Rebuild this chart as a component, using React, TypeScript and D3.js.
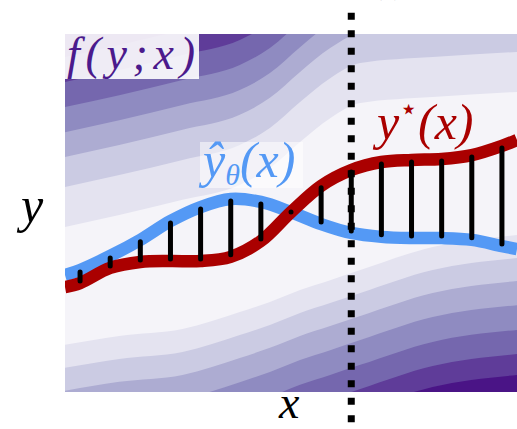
import * as d3 from 'd3'

const W = 517
const H = 429
const plot = { left: 65, right: 517, top: 34, bottom: 392 }

// sample positions along x; residual segments are drawn at the interior samples
const xs = [0, 0.5, 1.5, 2.5, 3.5, 4.5, 5.5, 6.5, 7.5, 8.5, 9.5, 10.5, 11.5, 12.5, 13.5, 14.5, 15]
// y*(x), the true solution
const yStar = [3.52, 3.65, 4.16, 4.36, 4.39, 4.39, 4.53, 5.06, 6.03, 6.91, 7.44, 7.71, 7.78, 7.81, 7.94, 8.25, 8.45]
// ŷθ(x), the model prediction
const yHat = [3.92, 4.09, 4.56, 5.1, 5.73, 6.2, 6.47, 6.37, 6.03, 5.63, 5.33, 5.2, 5.16, 5.16, 5.1, 4.89, 4.79]
const selectedX = 9.5

// f(y;x) contour bands: edges of the lowest band and the level offsets around it
const bandX = [0, 1.8, 3.9, 5.8, 6.8, 7.8, 8.8, 9.8, 12.2, 15]
const bandUpper = [5.53, 5.93, 6.44, 6.94, 7.51, 8.38, 9.18, 9.69, 9.89, 10.06]
const bandLower = [1.58, 1.88, 2.11, 2.68, 3.02, 3.42, 3.75, 4.09, 4.86, 5.26]
const levelAbove = [0, 1.34, 2.35, 3.18, 4.02, 4.86, 5.7]
const levelBelow = [0, 0.77, 1.54, 2.35, 3.18, 3.99, 4.69]
const nBands = 8

const xScale = d3.scaleLinear([0, 15], [plot.left, plot.right])
const yScale = d3.scaleLinear([0, 12], [plot.bottom, plot.top])
const bandColor = (k: number) => d3.interpolatePurples((k + 0.5) / nBands)

const RED = '#aa0000'
const BLUE = '#5499f5'
const SERIF = "'Liberation Serif', 'DejaVu Serif', serif"

export default function App() {
  const idx = d3.range(bandX.length)
  const bands = d3
    .range(levelAbove.length - 1, -1, -1)
    .map((k) => {
      const area = d3
        .area<number>()
        .x((i) => xScale(bandX[i]))
        .y0((i) => yScale(bandLower[i] - levelBelow[k]))
        .y1((i) => yScale(bandUpper[i] + levelAbove[k]))
        .curve(d3.curveMonotoneX)
      return { k, d: area(idx) ?? '' }
    })

  const pts = d3.range(xs.length)
  const line = (ys: number[]) =>
    d3
      .line<number>()
      .x((i) => xScale(xs[i]))
      .y((i) => yScale(ys[i]))
      .curve(d3.curveCatmullRom)(pts) ?? ''

  const residuals = pts.slice(1, -1).map((i) => {
    const a = yScale(yStar[i])
    const b = yScale(yHat[i])
    const inset = Math.abs(a - b) > 6 ? 2 : 0
    const dir = Math.sign(b - a)
    return { x: xScale(xs[i]), y1: a + dir * inset, y2: b - dir * inset }
  })

  return (
    <svg
      width={W}
      height={H}
      style={{ position: 'absolute', left: 0, top: 0, display: 'block', background: '#fff' }}
    >
      <defs>
        <clipPath id="plotClip">
          <rect x={plot.left} y={plot.top} width={plot.right - plot.left} height={plot.bottom - plot.top} />
        </clipPath>
      </defs>

      {/* cut-off label above the figure */}
      <text x={314} y={-5} fill="#9a9a9a" fontFamily={SERIF} fontStyle="italic" fontSize={26}>
        y<tspan dx={50}>(x)</tspan>
      </text>

      <g clipPath="url(#plotClip)">
        <rect
          x={plot.left}
          y={plot.top}
          width={plot.right - plot.left}
          height={plot.bottom - plot.top}
          fill={bandColor(nBands - 1)}
        />
        {bands.map((b) => (
          <path key={b.k} d={b.d} fill={bandColor(b.k)} />
        ))}

        <path d={line(yHat)} fill="none" stroke={BLUE} strokeWidth={12.5} />
        <path d={line(yStar)} fill="none" stroke={RED} strokeWidth={12.5} />

        {residuals.map((r, i) => (
          <line key={i} x1={r.x} x2={r.x} y1={r.y1} y2={r.y2} stroke="#000" strokeWidth={5} strokeLinecap="round" />
        ))}
      </g>

      {/* f(y;x) label */}
      <rect x={plot.left} y={plot.top} width={134} height={45} fill="#fff" fillOpacity={0.9} />
      <text
        x={67}
        y={69}
        fill="#4b1a8c"
        fontFamily={SERIF}
        fontStyle="italic"
        fontSize={46}
        textLength={128}
        lengthAdjust="spacing"
      >
        f(y;x)
      </text>

      {/* ŷθ(x) label */}
      <rect x={200} y={142} width={103} height={46} fill="#fff" fillOpacity={0.55} />
      <text x={203} y={177} fill={BLUE} fontFamily={SERIF} fontStyle="italic" fontSize={50}>
        ŷ
        <tspan fontSize={30} dy={8}>
          θ
        </tspan>
        <tspan dy={-8}>(x)</tspan>
      </text>

      {/* y*(x) label */}
      <text x={377} y={139} fill={RED} fontFamily={SERIF} fontStyle="italic" fontSize={50}>
        y
        <tspan fontSize={30} dy={-20} fontStyle="normal" fontFamily="'DejaVu Sans', sans-serif">
          ⋆
        </tspan>
        <tspan dy={20}>(x)</tspan>
      </text>

      {/* selected x */}
      <line
        x1={xScale(selectedX)}
        x2={xScale(selectedX)}
        y1={12.7}
        y2={H}
        stroke="#000"
        strokeWidth={7}
        strokeDasharray="7 10.5"
      />

      {/* axis labels */}
      <text x={21} y={222} fill="#000" fontFamily={SERIF} fontStyle="italic" fontSize={50}>
        y
      </text>
      <text x={279} y={418} fill="#000" fontFamily={SERIF} fontStyle="italic" fontSize={46}>
        x
      </text>
    </svg>
  )
}
